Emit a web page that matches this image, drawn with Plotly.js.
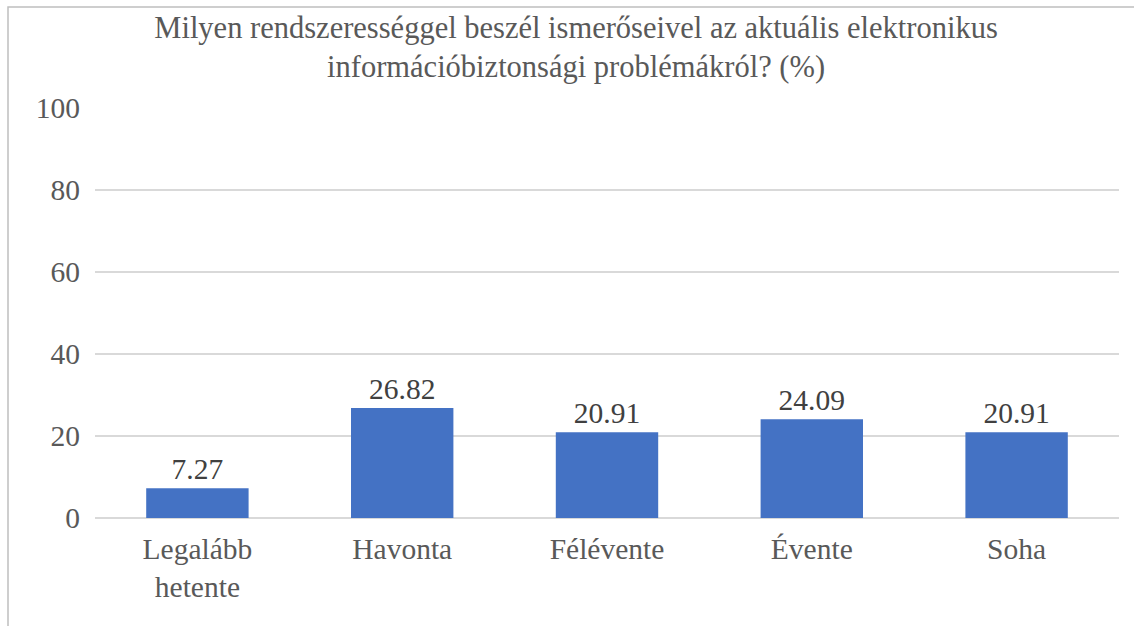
<!DOCTYPE html>
<html><head><meta charset="utf-8">
<script src="https://cdn.plot.ly/plotly-3.0.1.min.js"></script>
<style>body{margin:0;background:#fff}#c{width:1134px;height:626px}</style>
</head><body><div id="c"></div>
<script>
const categories = ["Legalább<br>hetente", "Havonta", "Félévente", "Évente", "Soha"];
const values = [7.27, 26.82, 20.91, 24.09, 20.91];
const labels = ["7.27", "26.82", "20.91", "24.09", "20.91"];
const yTicks = [0, 20, 40, 60, 80, 100];
const titleText = "Milyen rendszerességgel beszél ismerőseivel az aktuális elektronikus<br>információbiztonsági problémákról? (%)";

const font = "Liberation Serif, Times New Roman, serif";
const trace = {
  type: "bar", x: categories, y: values, text: labels,
  textposition: "outside", cliponaxis: false,
  textfont: {family: font, size: 29.5, color: "#404040"},
  marker: {color: "#4472C4"}, width: 0.5, hoverinfo: "none"
};
const layout = {
  width: 1134, height: 626,
  margin: {l: 95, r: 15, t: 108, b: 108},
  paper_bgcolor: "#fff", plot_bgcolor: "#fff",
  showlegend: false,
  title: {text: titleText, font: {family: font, size: 30.5, color: "#595959"},
    x: 0.508, xref: "container", xanchor: "center", y: 0.94, yref: "container", yanchor: "top"},
  xaxis: {tickfont: {family: font, size: 29.5, color: "#595959"}, showgrid: false,
    showline: false, ticks: "", ticklabelstandoff: 10},
  yaxis: {range: [0, 100], tickvals: yTicks, ticktext: yTicks.map(String),
    tickfont: {family: font, size: 29.5, color: "#595959"},
    gridcolor: "#d9d9d9", gridwidth: 2, zeroline: true, zerolinecolor: "#d9d9d9", zerolinewidth: 2,
    showline: false, ticks: "", ticklabelstandoff: 14},
  shapes: [{type: "rect", xref: "paper", yref: "paper",
    x0: -87/1024, x1: 1.1, y0: -0.3, y1: 511/410,
    line: {color: "#bfbfbf", width: 1.5}, fillcolor: "rgba(0,0,0,0)"}]
};
Plotly.newPlot("c", [trace], layout, {displayModeBar: false, staticPlot: true});
</script></body></html>
